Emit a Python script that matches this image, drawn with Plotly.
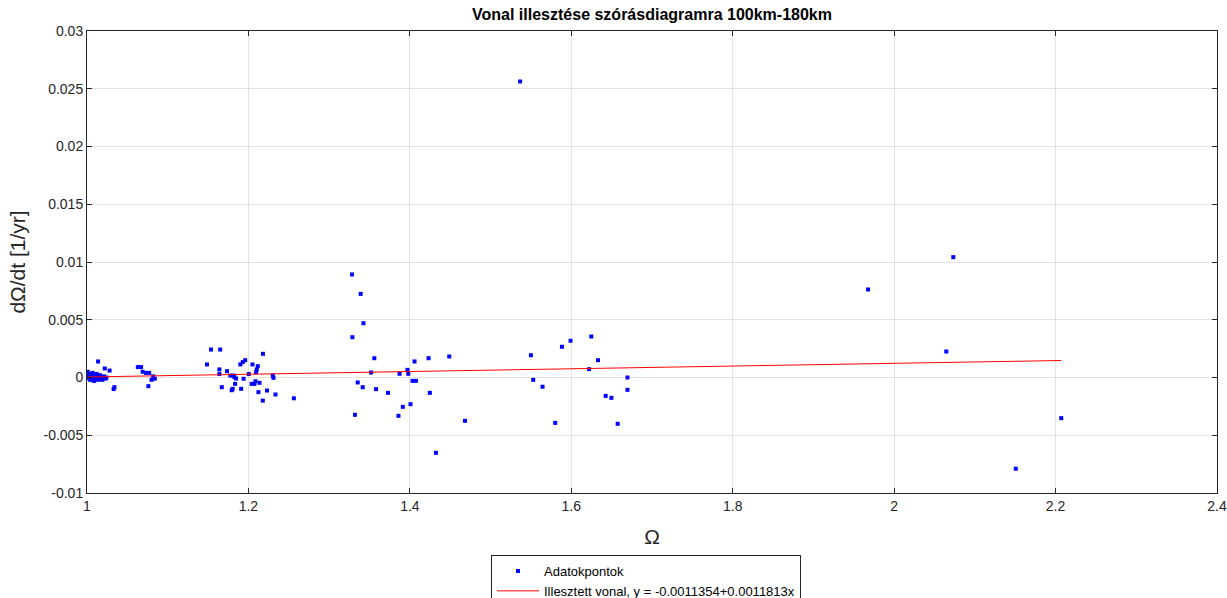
import plotly.graph_objects as go

# Data points (Ω, dΩ/dt)
x_data = [
    1.001, 1.002, 1.003, 1.004, 1.005, 1.006, 1.007, 1.008, 1.009, 1.010,
    1.011, 1.012, 1.013, 1.014, 1.015, 1.016, 1.017, 1.018, 1.019, 1.021,
    1.023, 1.024, 1.0137, 1.022, 1.028, 1.034, 1.033, 1.002, 1.004, 1.006,
    1.063, 1.067, 1.069, 1.073, 1.077, 1.082, 1.080, 1.084, 1.076,
    1.1536, 1.165, 1.1487, 1.164, 1.164, 1.1735, 1.167, 1.1776, 1.1814, 1.1826,
    1.1847, 1.1835, 1.1805, 1.1793, 1.190, 1.193, 1.196, 1.191, 1.194, 1.2004,
    1.205, 1.218, 1.2116, 1.2103, 1.2095, 1.2087, 1.204, 1.2075, 1.2137, 1.2124,
    1.2178, 1.223, 1.2302, 1.231, 1.2335, 1.2563,
    1.3283, 1.3391, 1.3425, 1.3288, 1.356, 1.4058, 1.4232, 1.4488, 1.352, 1.397,
    1.3872, 1.398, 1.4033, 1.4075, 1.3354, 1.3416, 1.3581, 1.373, 1.4248, 1.4008,
    1.3913, 1.332, 1.3859, 1.4683, 1.4323,
    1.5366,
    1.550, 1.5884, 1.5991, 1.6248, 1.6331, 1.622, 1.5528, 1.5644, 1.6696, 1.6696,
    1.6426, 1.6497, 1.5801, 1.6575,
    1.9677, 2.0733, 2.0646, 2.207, 2.1507,
]
y_data = [
    0.0005, 0.0002, -0.0001, 0.0003, 0.0000, -0.0002, 0.0004, 0.0001, -0.0003, 0.0002,
    -0.0001, 0.0003, 0.0000, -0.0002, 0.0001, 0.0002, -0.0001, 0.0000, -0.0002, 0.0001,
    -0.0001, 0.0000, 0.00139, 0.00078, 0.0006, -0.00084, -0.0010, 0.0000, -0.0002, 0.0001,
    0.0009, 0.0009, 0.0005, 0.0004, 0.0004, 0.0001, -0.0002, -0.0001, -0.00075,
    0.00242, 0.00242, 0.00113, 0.0007, 0.0003, 0.00055, -0.00084, 0.00017, 0.00017, 0.00003,
    -0.00009, -0.00055, -0.00098, -0.0011, 0.00113, 0.00133, 0.0015, -0.00098, -0.00011, 0.0003,
    0.00113, 0.00205, 0.00098, 0.0007, 0.00046, -0.00032, -0.00055, -0.00055, -0.00046, -0.00127,
    -0.0020, -0.00113, 0.00017, -0.00003, -0.00147, -0.0018,
    0.00892, 0.00724, 0.0047, 0.00349, 0.00167, 0.00139, 0.00167, 0.00182, 0.00043, 0.00066,
    0.00032, 0.00032, -0.00029, -0.00029, -0.00043, -0.00084, -0.00101, -0.00133, -0.00133, -0.00231,
    -0.00254, -0.00323, -0.00332, -0.00375, -0.00652,
    0.02563,
    0.00193, 0.00266, 0.00318, 0.00355, 0.0015, 0.00072, -0.0002, -0.0008, 0.0000, -0.00107,
    -0.00159, -0.00176, -0.00393, -0.00401,
    0.00762, 0.01042, 0.00225, -0.00352, -0.0079,
]

# Fitted line coefficients
intercept = -0.0011354
slope = 0.0011813
fit_x = [min(x_data), max(x_data)]
fit_y = [intercept + slope * v for v in fit_x]

x_ticks = [1, 1.2, 1.4, 1.6, 1.8, 2, 2.2, 2.4]
x_ticktext = ["1", "1.2", "1.4", "1.6", "1.8", "2", "2.2", "2.4"]
y_ticks = [-0.01, -0.005, 0, 0.005, 0.01, 0.015, 0.02, 0.025, 0.03]
y_ticktext = ["-0.01", "-0.005", "0", "0.005", "0.01", "0.015", "0.02", "0.025", "0.03"]

axis_color = "#262626"
grid_color = "#e3e3e3"
font_family = "Liberation Sans, Arial, sans-serif"

L, R = 87, 10
plot_w = 1227 - L - R

fig = go.Figure()
fig.add_trace(go.Scatter(
    x=x_data, y=y_data, mode="markers", name="Adatokpontok",
    marker=dict(symbol="square", size=4, color="#0000ff", line=dict(width=0)),
))
fig.add_trace(go.Scatter(
    x=fit_x, y=fit_y, mode="lines",
    name="Illesztett vonal, y = -0.0011354+0.0011813x",
    line=dict(color="#ff0000", width=1),
))

fig.update_layout(
    width=1227, height=598,
    margin=dict(l=L, r=R, t=31, b=105, autoexpand=False),
    paper_bgcolor="white", plot_bgcolor="white",
    font=dict(family=font_family, size=14, color=axis_color),
    title=dict(
        text="<b>Vonal illesztése szórásdiagramra 100km-180km</b>",
        x=(L + plot_w / 2) / 1227, xanchor="center",
        y=1 - 14 / 598, yanchor="middle",
        font=dict(family=font_family, size=16, color="#000000"),
    ),
    showlegend=True,
    legend=dict(
        x=(646 - L) / plot_w, xanchor="center",
        yref="container", y=1 - 555 / 598, yanchor="top",
        bordercolor="#262626", borderwidth=1,
        bgcolor="white",
        font=dict(family=font_family, size=13, color="#000000"),
        tracegroupgap=0, itemwidth=42,
    ),
)
fig.update_xaxes(
    range=[1, 2.4], tickvals=x_ticks, ticktext=x_ticktext,
    showgrid=True, gridcolor=grid_color, gridwidth=1,
    showline=True, linecolor=axis_color, linewidth=1, mirror="ticks",
    ticks="inside", ticklen=5, tickcolor=axis_color,
    zeroline=False, ticklabeloverflow="allow", automargin=False,
    tickfont=dict(size=14, color=axis_color),
    title=dict(text="Ω", font=dict(size=21, color=axis_color), standoff=16),
)
fig.update_yaxes(
    range=[-0.01, 0.03], tickvals=y_ticks, ticktext=y_ticktext,
    showgrid=True, gridcolor=grid_color, gridwidth=1,
    showline=True, linecolor=axis_color, linewidth=1, mirror="ticks",
    ticks="inside", ticklen=5, tickcolor=axis_color,
    zeroline=False, automargin=False,
    tickfont=dict(size=14, color=axis_color),
    title=dict(text="dΩ/dt [1/yr]", font=dict(size=21, color=axis_color), standoff=12),
)

fig.write_html("out.html")
